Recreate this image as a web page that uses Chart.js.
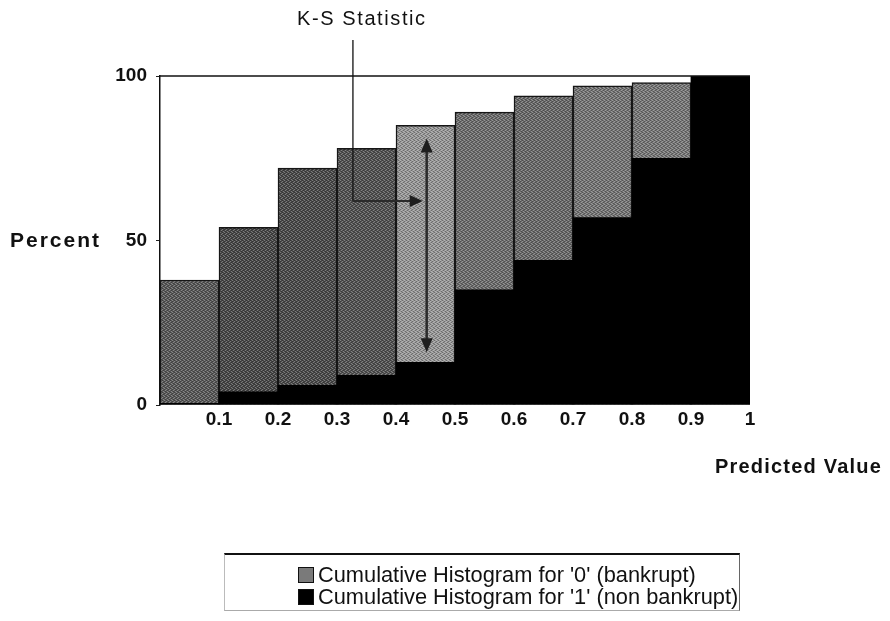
<!DOCTYPE html>
<html>
<head>
<meta charset="utf-8">
<title>Cumulative histograms - K-S statistic</title>
<script src="https://cdn.jsdelivr.net/npm/chart.js@4.4.0/dist/chart.umd.min.js"></script>
<style>
  html, body { margin: 0; padding: 0; background: #fff; }
  #wrap { position: relative; width: 890px; height: 621px; overflow: hidden; }
  #chart { position: absolute; left: 0; top: 0; }
  #legend {
    position: absolute; left: 224px; top: 553px; width: 516px; height: 58px;
    box-sizing: border-box;
    border-top: 2px solid #111; border-bottom: 1px solid #aaa;
    border-left: 1px solid #bbb; border-right: 1px solid #666;
    font-family: 'Liberation Sans', Arial, sans-serif; font-size: 21.8px; color: #111;
  }
  .legend-item { position: absolute; left: 73px; height: 22px; line-height: 22px; display: flex; align-items: center; white-space: nowrap; }
  .swatch { width: 16px; height: 16px; margin-right: 4px; box-sizing: border-box; border: 1px solid #111; }
</style>
</head>
<body>
<div id="wrap">
  <canvas id="chart" width="890" height="621"></canvas>
  <div id="legend"></div>
</div>
<script>
// ===== Data =====
const binUpper = [0.1, 0.2, 0.3, 0.4, 0.5, 0.6, 0.7, 0.8, 0.9, 1.0];
const bankruptCum = [38, 54, 72, 78, 85, 89, 94, 97, 98, 100];
const nonBankruptCum = [0.5, 4, 6, 9, 13, 35, 44, 57, 75, 100];
const yTicks = [0, 50, 100];
const seriesNames = ["Cumulative Histogram for '0' (bankrupt)", "Cumulative Histogram for '1' (non bankrupt)"];
const binWidth = 0.1;

// K-S annotation: widest gap between the two cumulative curves
const ksBin = 4;
const ksLeaderX = 0.327;
const ksLeaderY = 62;

// ===== Styles =====
const grayShades = ['#585858', '#474747', '#4a4a4a', '#525252', '#979797', '#6c6c6c', '#686868', '#747474', '#777777', '#777777'];
const FONT = "'Liberation Sans', Arial, sans-serif";

// small fixed halftone tile so the grey bars look printed, like the original
function halftone(base) {
  const c = document.createElement('canvas');
  c.width = 4; c.height = 4;
  const g = c.getContext('2d');
  g.fillStyle = base;
  g.fillRect(0, 0, 4, 4);
  g.fillStyle = 'rgba(255,255,255,0.28)';
  [[0, 0], [2, 1], [1, 2], [3, 3]].forEach(p => g.fillRect(p[0], p[1], 1, 1));
  g.fillStyle = 'rgba(0,0,0,0.28)';
  [[2, 0], [0, 1], [3, 2], [1, 3]].forEach(p => g.fillRect(p[0], p[1], 1, 1));
  return g.createPattern(c, 'repeat');
}
const grayFills = grayShades.map(halftone);

function toPoints(values) {
  return values.map((v, i) => ({ x: binUpper[i] - binWidth / 2, y: v }));
}

function arrowHead(ctx, x, y, dx, dy, len, half) {
  // dx, dy: unit direction the arrow points to
  ctx.beginPath();
  ctx.moveTo(x, y);
  ctx.lineTo(x - dx * len - dy * half, y - dy * len + dx * half);
  ctx.lineTo(x - dx * len + dy * half, y - dy * len - dx * half);
  ctx.closePath();
  ctx.fill();
}

function spacedText(ctx, text, x, y, font, spacing) {
  ctx.save();
  ctx.font = font;
  ctx.letterSpacing = spacing;
  ctx.fillStyle = '#111';
  ctx.textBaseline = 'middle';
  ctx.textAlign = 'left';
  ctx.fillText(text, x, y);
  ctx.restore();
}

const decorations = {
  id: 'decorations',
  afterDatasetsDraw(chart) {
    const { ctx, chartArea, scales } = chart;
    const xs = scales.x, ys = scales.y;
    ctx.save();

    // top frame line
    ctx.strokeStyle = '#111';
    ctx.lineWidth = 1.5;
    ctx.beginPath();
    ctx.moveTo(chartArea.left, chartArea.top);
    ctx.lineTo(chartArea.right, chartArea.top);
    ctx.stroke();

    // leader from caption down, then right to the K-S arrow
    const lx = xs.getPixelForValue(ksLeaderX);
    const ly = ys.getPixelForValue(ksLeaderY);
    const ax = xs.getPixelForValue(binUpper[ksBin] - binWidth / 2 + 0.002);
    ctx.strokeStyle = '#111';
    ctx.lineWidth = 1.3;
    ctx.beginPath();
    ctx.moveTo(lx, 40);
    ctx.lineTo(lx, ly);
    ctx.stroke();

    ctx.strokeStyle = '#2a2a2a';
    ctx.fillStyle = '#1e1e1e';
    ctx.lineWidth = 2;
    ctx.beginPath();
    ctx.moveTo(lx, ly);
    ctx.lineTo(ax - 14, ly);
    ctx.stroke();
    arrowHead(ctx, ax - 4, ly, 1, 0, 13, 6);

    // double-headed arrow spanning the gap in the K-S bin
    const yTop = ys.getPixelForValue(bankruptCum[ksBin] - 4);
    const yBot = ys.getPixelForValue(nonBankruptCum[ksBin] + 3);
    ctx.lineWidth = 2.5;
    ctx.beginPath();
    ctx.moveTo(ax, yTop + 10);
    ctx.lineTo(ax, yBot - 10);
    ctx.stroke();
    arrowHead(ctx, ax, yTop, 0, -1, 14, 6);
    arrowHead(ctx, ax, yBot, 0, 1, 14, 6);
    ctx.restore();
  },
  afterDraw(chart) {
    const { ctx, chartArea, scales } = chart;
    spacedText(ctx, 'K-S Statistic', 297, 19, '20px ' + FONT, '1.6px');
    spacedText(ctx, 'Percent', 10, scales.y.getPixelForValue(50) + 1, 'bold 21px ' + FONT, '2px');
    spacedText(ctx, 'Predicted Value', 715, chartArea.bottom + 62, 'bold 20px ' + FONT, '1.2px');
  }
};

const ctx = document.getElementById('chart');

const chart = new Chart(ctx, {
  type: 'bar',
  data: {
    datasets: [
      {
        label: seriesNames[0],
        data: toPoints(bankruptCum),
        backgroundColor: c => grayFills[c.dataIndex] || '#777',
        borderColor: '#161616',
        borderWidth: 1.5,
        borderSkipped: 'bottom',
        grouped: false,
        barPercentage: 1,
        categoryPercentage: 1,
        order: 2
      },
      {
        label: seriesNames[1],
        data: toPoints(nonBankruptCum),
        backgroundColor: '#000',
        borderWidth: 0,
        grouped: false,
        barPercentage: 1,
        categoryPercentage: 1,
        order: 1
      }
    ]
  },
  options: {
    responsive: false,
    animation: false,
    devicePixelRatio: 1,
    layout: { padding: { top: 76, right: 140, bottom: 176, left: 0 } },
    plugins: {
      legend: { display: false },
      tooltip: { enabled: false }
    },
    scales: {
      x: {
        type: 'linear',
        min: 0,
        max: 1,
        offset: false,
        afterFit: s => { s.height = 40; },
        afterBuildTicks: s => { s.ticks = binUpper.map(v => ({ value: v })); },
        ticks: {
          padding: 3,
          color: '#111',
          font: { family: FONT, size: 19, weight: 'bold' },
          callback: v => String(+(+v).toFixed(1))
        },
        grid: { display: false, drawTicks: false, tickLength: 0 },
        border: { display: false }
      },
      y: {
        min: 0,
        max: 100,
        afterFit: s => { s.width = 160; },
        afterBuildTicks: s => { s.ticks = yTicks.map(v => ({ value: v })); },
        ticks: {
          padding: 9,
          color: '#111',
          font: { family: FONT, size: 19, weight: 'bold' }
        },
        grid: { display: true, drawOnChartArea: false, drawTicks: true, tickLength: 4, color: '#222' },
        border: { display: true, color: '#111', width: 1.5 }
      }
    }
  },
  plugins: [decorations]
});

// ===== Legend (boxed, one series per line) =====
function buildLegend() {
  const box = document.getElementById('legend');
  chart.data.datasets.forEach((ds, i) => {
    const item = document.createElement('div');
    item.className = 'legend-item';
    item.style.top = (9 + i * 22) + 'px';
    const sw = document.createElement('span');
    sw.className = 'swatch';
    sw.style.background = i === 0 ? '#7a7a7a' : '#000';
    const label = document.createElement('span');
    label.textContent = ds.label;
    item.appendChild(sw);
    item.appendChild(label);
    box.appendChild(item);
  });
}
buildLegend();
</script>
</body>
</html>
